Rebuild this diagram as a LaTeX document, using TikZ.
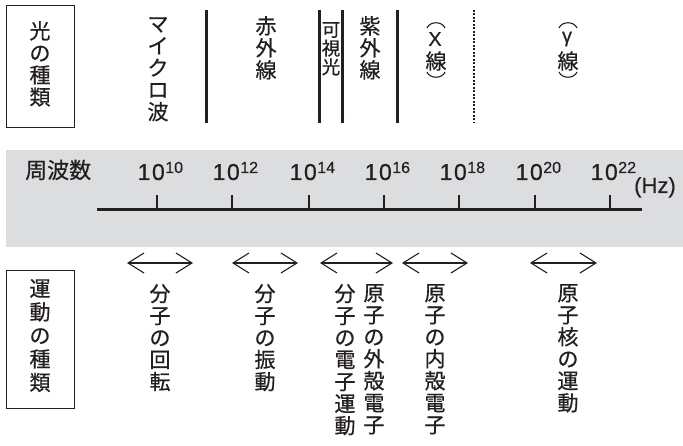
\documentclass[tikz,border=0pt]{standalone}
\usepackage{fontspec}
\newfontfamily\jp{Noto Sans CJK JP}[FakeBold=0.6]
\newfontfamily\num{Liberation Sans}[FakeBold=0.4]
\usetikzlibrary{arrows.meta}
\definecolor{band}{RGB}{220,221,223}
\definecolor{ink}{RGB}{35,31,32}
\begin{document}
\begin{tikzpicture}[x=1pt,y=-1pt,
  vtxt/.style={font=\jp\fontsize{21}{22}\selectfont, align=center, inner sep=0pt, anchor=north, text=ink},
  vsm/.style={font=\jp\fontsize{18.5}{18.7}\selectfont, align=center, inner sep=0pt, anchor=north, text=ink},
  vbig/.style={font=\jp\fontsize{21}{23.5}\selectfont, align=center, inner sep=0pt, anchor=north, text=ink},
  kbox/.style={draw=ink, line width=1.3pt, inner sep=0pt},
  sepline/.style={draw=ink, line width=3pt},
  dotline/.style={draw=ink, line width=2.6pt, dash pattern=on 2pt off 1.5pt},
  axisline/.style={draw=ink, line width=3pt},
  tickline/.style={draw=ink, line width=2.3pt},
  paren/.style={draw=ink, line width=1.1pt},
  dbl/.style={draw=ink, line width=1.1pt, {Straight Barb[length=16pt,width=20pt]}-{Straight Barb[length=16pt,width=20pt]}},
  numlab/.style={font=\num\fontsize{23}{23}\selectfont, inner sep=0pt, anchor=base west, text=ink},
]
\useasboundingbox (0,0) rectangle (683,446);

% ---------- top: kinds of light ----------
\node[kbox, minimum width=68pt, minimum height=122pt, anchor=north west] (lbox) at (6,5) {};
\node[vtxt] (ltxt) at (40,21) {光\\の\\種\\類};

\node[vtxt] (micro) at (158,17) {マ\\イ\\ク\\ロ\\波};
\node[vtxt] (ir) at (266,16) {赤\\外\\線};
\node[vsm] (vis) at (331,22) {可\\視\\光};
\node[vtxt] (uv) at (370,16) {紫\\外\\線};

\coordinate (s1t) at (206,10); \coordinate (s1b) at (206,123);
\coordinate (s2t) at (319,10); \coordinate (s2b) at (319,123);
\coordinate (s3t) at (342,10); \coordinate (s3b) at (342,123);
\coordinate (s4t) at (397,10); \coordinate (s4b) at (397,123);
\coordinate (s5t) at (474,10); \coordinate (s5b) at (474,123);
\draw[sepline] (s1t) -- (s1b);
\draw[sepline] (s2t) -- (s2b);
\draw[sepline] (s3t) -- (s3b);
\draw[sepline] (s4t) -- (s4b);
\draw[dotline] (s5t) -- (s5b);

% X-ray
\coordinate (xa1) at (427,28); \coordinate (xa2) at (445,28);
\draw[paren] (xa1) .. controls (430,21) and (442,21) .. (xa2);
\node[font=\num\fontsize{20}{20}\selectfont, inner sep=0pt, text=ink] (xl) at (435,39) {X};
\node[font=\jp\fontsize{21}{21}\selectfont, inner sep=0pt, text=ink] (xs) at (436,61) {線};
\coordinate (xb1) at (427,72); \coordinate (xb2) at (445,72);
\draw[paren] (xb1) .. controls (430,79) and (442,79) .. (xb2);

% gamma-ray
\coordinate (ga1) at (559,28); \coordinate (ga2) at (577,28);
\draw[paren] (ga1) .. controls (562,21) and (574,21) .. (ga2);
\node[font=\num\fontsize{20}{20}\selectfont, inner sep=0pt, text=ink] (gl) at (567,39) {γ};
\node[font=\jp\fontsize{21}{21}\selectfont, inner sep=0pt, text=ink] (gs) at (568,61) {線};
\coordinate (gb1) at (559,72); \coordinate (gb2) at (577,72);
\draw[paren] (gb1) .. controls (562,79) and (574,79) .. (gb2);

% ---------- band: frequency ----------
\node[fill=band, minimum width=677pt, minimum height=97pt, anchor=north west, inner sep=0pt] (band) at (6,150) {};
\node[font=\jp\fontsize{22}{22}\selectfont, inner sep=0pt, anchor=west, text=ink] (freq) at (25,170) {周波数};

\coordinate (axL) at (97,210); \coordinate (axR) at (642,210);
\draw[axisline] (axL) -- (axR);

\foreach \tx/\ex in {157/10,232/12,309/14,384/16,459/18,535/20,610/22}{
  \coordinate (t\ex a) at (\tx,195);
  \coordinate (t\ex b) at (\tx,210);
  \draw[tickline] (t\ex a) -- (t\ex b);
  \node[numlab] (n\ex) at (\tx-19.5,180) {1\kern1.5pt0\kern0.5pt\raisebox{7pt}{\fontsize{16}{16}\selectfont \ex}};
}
\node[font=\num\fontsize{22}{22}\selectfont, inner sep=0pt, anchor=base west, text=ink] (hz) at (634,193) {(Hz)};

% ---------- bottom: kinds of motion ----------
\coordinate (a1l) at (127,263); \coordinate (a1r) at (193,263);
\coordinate (a2l) at (232,263); \coordinate (a2r) at (298,263);
\coordinate (a3l) at (320,263); \coordinate (a3r) at (393,263);
\coordinate (a4l) at (402,263); \coordinate (a4r) at (468,263);
\coordinate (a5l) at (530,263); \coordinate (a5r) at (597,263);
\draw[dbl] (a1l) -- (a1r);
\draw[dbl] (a2l) -- (a2r);
\draw[dbl] (a3l) -- (a3r);
\draw[dbl] (a4l) -- (a4r);
\draw[dbl] (a5l) -- (a5r);

\node[kbox, minimum width=68pt, minimum height=138pt, anchor=north west] (mbox) at (6,270) {};
\node[vbig] (mtxt) at (40,279) {運\\動\\の\\種\\類};

\node[vtxt] (rot) at (160,284) {分\\子\\の\\回\\転};
\node[vtxt] (vib) at (265,284) {分\\子\\の\\振\\動};
\node[vtxt] (mel) at (345,284) {分\\子\\の\\電\\子\\運\\動};
\node[vtxt] (oel) at (374,284) {原\\子\\の\\外\\殻\\電\\子};
\node[vtxt] (iel) at (435,284) {原\\子\\の\\内\\殻\\電\\子};
\node[vtxt] (nuc) at (568,284) {原\\子\\核\\の\\運\\動};
\end{tikzpicture}
\end{document}
